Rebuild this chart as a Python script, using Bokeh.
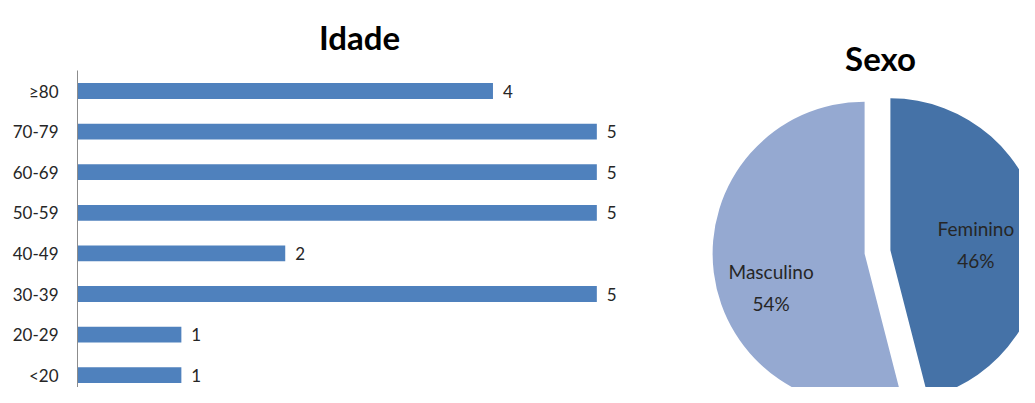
import math
from bokeh.plotting import figure
from bokeh.layouts import row
from bokeh.models import Range1d, ColumnDataSource, FixedTicker
from bokeh.core.properties import value
from bokeh.embed import file_html
from bokeh.resources import INLINE

# ---- data ----
age_groups = ["<20", "20-29", "30-39", "40-49", "50-59", "60-69", "70-79", "\u226580"]
age_counts = [1, 1, 5, 2, 5, 5, 5, 4]

sex_labels = ["Feminino", "Masculino"]
sex_pct = [46, 54]

bar_title = "Idade"
pie_title = "Sexo"

FONT = "Lato"
TEXT_COLOR = "#262626"

H = 387
# ---- left: horizontal bar chart (y in category-index units) ----
pos = list(range(len(age_groups)))
n = len(age_groups)
step = 40.6            # pixels per category
top_px = 90.5          # screen y of the top category centre
y_top = (n - 1) + top_px / step
y_bot = y_top - H / step

p1 = figure(width=680, height=H, output_backend="svg", toolbar_location=None,
            y_range=Range1d(y_bot, y_top),
            x_range=Range1d(0, 5.43), x_axis_location=None,
            min_border_left=77, min_border_right=39, min_border_top=0,
            min_border_bottom=0)
p1.outline_line_color = None
p1.grid.visible = False

src = ColumnDataSource(dict(y=pos, v=age_counts, t=[str(c) for c in age_counts]))
p1.hbar(y="y", right="v", left=0, height=0.39, source=src,
        fill_color="#4F81BD", line_color=None)
p1.text(x="v", y="y", text="t", source=src, x_offset=10,
        text_baseline="middle", text_align="left",
        text_font=value(FONT), text_font_size="17px", text_color=TEXT_COLOR)
# chart title
p1.text(x=[5.43 / 2], y=[y_top - 36 / step], text=[bar_title],
        text_align="center", text_baseline="alphabetic",
        text_font=value(FONT), text_font_size="33px", text_font_style="bold",
        text_color="#000000")

ax = p1.yaxis[0]
ax.ticker = FixedTicker(ticks=pos)
ax.major_label_overrides = {i: g for i, g in zip(pos, age_groups)}
ax.bounds = (-0.6, n - 0.5)
ax.axis_line_color = "#8c8c8c"
ax.major_tick_line_color = None
ax.minor_tick_line_color = None
ax.major_tick_out = 0
ax.major_tick_in = 0
ax.major_label_standoff = 19
ax.major_label_text_font = FONT
ax.major_label_text_font_size = "17px"
ax.major_label_text_color = TEXT_COLOR

# ---- right: exploded pie (1 data unit = 1 px) ----
p2 = figure(width=339, height=H, output_backend="svg", toolbar_location=None,
            x_range=Range1d(680, 1019), y_range=Range1d(-H, 0),
            x_axis_location=None, y_axis_location=None,
            min_border=0)
p2.outline_line_color = None
p2.grid.visible = False

cx, cy, R, explode = 877, -251.5, 152, 13
colors = ["#4572A7", "#95A9D1"]
total = sum(sex_pct)
start = 0.0
xs, ys, sa, ea, lx, ly, lt = [], [], [], [], [], [], []
label_dx = [-8, 0]
label_dy = [-6, -22]
for i, (lab, pct) in enumerate(zip(sex_labels, sex_pct)):
    frac = pct / total
    a0 = start
    a1 = start + frac * 2 * math.pi
    mid = (a0 + a1) / 2  # clockwise from 12 o'clock
    dx, dy = math.sin(mid), math.cos(mid)
    x0, y0 = cx + explode * dx, cy + explode * dy
    xs.append(x0)
    ys.append(y0)
    # bokeh angles: counter-clockwise from +x
    sa.append(math.pi / 2 - a1)
    ea.append(math.pi / 2 - a0)
    lx.append(x0 + 0.62 * R * dx + label_dx[i])
    ly.append(y0 + 0.62 * R * dy + label_dy[i])
    lt.append(f"{lab}\n{pct}%")
    start = a1

p2.wedge(x=xs, y=ys, radius=R, start_angle=sa, end_angle=ea,
         fill_color=colors, line_color=None)
p2.text(x=lx, y=ly, text=lt, text_align="center", text_baseline="middle",
        text_font=value(FONT), text_font_size="19px", text_color=TEXT_COLOR,
        text_line_height=1.4)
p2.text(x=[880], y=[-57], text=[pie_title], text_align="center",
        text_baseline="alphabetic", text_font=value(FONT),
        text_font_size="33px", text_font_style="bold", text_color="#000000")

layout = row(p1, p2, spacing=0)
open("out.html", "w").write(file_html(layout, INLINE))
